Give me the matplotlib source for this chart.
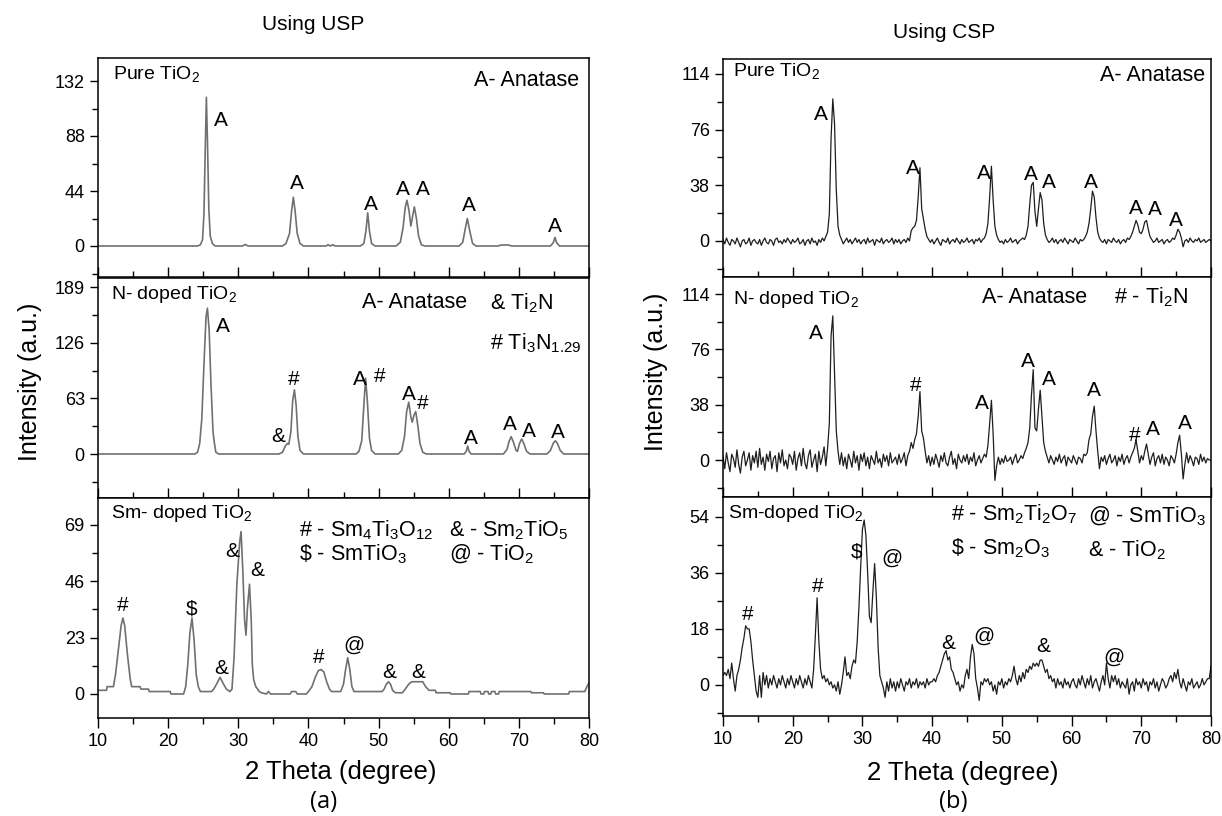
import numpy as np
import matplotlib
matplotlib.use("Agg")
import matplotlib.pyplot as plt
from matplotlib.ticker import MultipleLocator

plt.rcParams['font.family'] = ['Liberation Sans', 'DejaVu Sans']
plt.rcParams['mathtext.fontset'] = 'custom'
plt.rcParams['mathtext.rm'] = 'Liberation Sans'
plt.rcParams['mathtext.it'] = 'Liberation Sans:italic'
plt.rcParams['mathtext.default'] = 'regular'

# ---- data: USP (smooth patterns, read as x/y points) ----
usp_pure_x = [10, 24.2, 24.6, 24.9, 25.1, 25.3, 25.45, 25.6, 25.8, 26.0, 26.3, 26.7,
              30.6, 31.0, 31.4, 36.3, 36.8, 37.3, 37.6, 37.85, 38.1, 38.4, 38.8, 39.3,
              42.5, 42.8, 43.1, 43.5, 43.8, 47.4, 47.9, 48.2, 48.45, 48.7, 49.0, 49.5,
              52.5, 53.1, 53.5, 53.8, 54.05, 54.35, 54.6, 54.8, 55.1, 55.4, 55.7, 56.1, 56.6,
              61.5, 62.0, 62.3, 62.65, 63.0, 63.4, 63.9, 67.0, 67.5, 68.5, 69.0,
              74.5, 74.9, 75.15, 75.4, 75.8, 80]
usp_pure_y = [0, 0, 1, 5, 25, 80, 119, 85, 30, 8, 2, 0,
              0, 1.2, 0, 0, 2, 10, 28, 39, 28, 10, 2, 0,
              0, 1, 0, 1, 0, 0, 2, 12, 26.5, 12, 2, 0,
              0, 3, 15, 31, 36.6, 28, 16, 22, 31.3, 22, 8, 1, 0,
              0, 3, 12, 22, 12, 2, 0, 0, 0.8, 0.8, 0,
              0, 2.5, 6.9, 2.5, 0, 0]

usp_n_x = [10, 23.8, 24.2, 24.5, 24.8, 25.1, 25.4, 25.6, 25.85, 26.1, 26.4, 26.6, 26.8, 27.2,
           35.8, 36.3, 36.7, 37.0, 37.2, 37.5, 37.75, 38.0, 38.25, 38.5, 38.8, 39.3,
           46.8, 47.2, 47.6, 47.9, 48.15, 48.4, 48.7, 49.0, 49.5,
           52.8, 53.3, 53.7, 54.0, 54.3, 54.6, 54.8, 55.05, 55.3, 55.6, 55.9, 56.3, 56.8,
           62.2, 62.5, 62.7, 62.9, 63.2,
           67.8, 68.3, 68.6, 68.9, 69.2, 69.6, 69.8, 70.1, 70.4, 70.7, 71.1, 71.6,
           74.0, 74.5, 74.9, 75.2, 75.5, 75.9, 76.4, 80]
usp_n_y = [0, 0, 2, 12, 40, 100, 155, 165, 140, 80, 25, 12, 2, 0,
           0, 2, 9, 12, 11, 25, 60, 72.6, 55, 20, 4, 0,
           0, 3, 15, 55, 85.8, 60, 18, 4, 0,
           0, 4, 20, 48, 58.6, 42, 36, 44, 48, 32, 12, 2, 0,
           0, 3, 9, 3, 0,
           0, 5, 14, 19.6, 14, 4, 3, 12, 17, 12, 3, 0,
           0, 4, 12, 15, 12, 4, 0, 0]

usp_sm_x = [10, 11.2, 11.3, 12.2, 12.5, 12.9, 13.3, 13.55, 13.8, 14.2, 14.6, 14.8, 16.0, 16.1,
            17.2, 17.3, 20.3, 20.4, 22.2, 22.5, 22.8, 23.1, 23.4, 23.7, 24.0, 24.3, 24.6,
            25.5, 26.2, 26.5, 26.9, 27.4, 27.9, 28.3, 28.8, 29.1, 29.4, 29.8, 30.2, 30.4,
            30.65, 30.9, 31.1, 31.3, 31.6, 31.85, 32.0, 32.2, 32.5, 33.0, 33.3, 34.0, 34.3,
            34.6, 37.4, 37.6, 38.2, 38.4, 39.7, 40.0, 40.5, 41.0, 41.4, 41.8, 42.2, 42.6,
            43.0, 43.3, 44.6, 45.0, 45.3, 45.6, 45.9, 46.2, 46.5, 50.5, 50.8, 51.1, 51.4,
            51.7, 52.0, 52.4, 53.4, 53.8, 54.3, 54.7, 56.3, 56.7, 57.2, 58.1, 58.2, 60.2,
            60.3, 62.8, 62.9, 64.5, 64.6, 65.0, 65.1, 65.6, 65.7, 66.0, 66.1, 66.6, 66.7,
            67.1, 67.2, 71.7, 71.8, 73.5, 73.6, 77.1, 77.2, 79.4, 79.7, 80]
usp_sm_y = [1.5, 1.5, 3, 3, 8, 18, 28, 31, 28, 16, 6, 3, 3, 2,
            2, 1, 1, 0, 0, 3, 12, 25, 31, 22, 8, 3, 1,
            1, 1, 2, 4, 6.8, 4, 2, 1, 2, 15, 45, 62, 66.3,
            50, 30, 24, 35, 44.8, 30, 12, 5.7, 3, 1, 0.5, 0, 1,
            0, 0, 1, 1, 0, 0, 1, 3, 7, 9.5, 10, 9, 5,
            2, 1, 1, 4, 10, 14.8, 10, 3, 1, 1, 2, 4, 5,
            4, 1.5, 0.5, 0.5, 2, 4, 5, 5, 3, 1.5, 1.5, 0.5, 0.5,
            0, 0, 1, 1, 0, 0, 1, 1, 0, 0, 1, 1, 0,
            0, 1, 1, 0.5, 0.5, 0, 0, 1, 1, 3, 4.5]

# ---- data: CSP (noisy patterns, 0.25 deg steps from 10 to 80) ----
csp_pure_y = [
    1, -2, 2, -1, -3, 1, 0, -2, 2, -1, -4, 0, 1, -2, -1, 2, -3, 0, 1, -1,
    -2, 1, -3, 0, 2, -1, -2, 1, 0, -3, 1, 2, -1, 0, -2, 1, -1, 2, 0, -2,
    1, -1, 0, 2, -2, -1, 1, -3, 0, 1, -2, 2, -1, 0, -3, 1, -1, 2, 0, 3,
    6, 18, 70, 97, 80, 35, 10, 4, 1, -2, 0, 2, -1, 1, -2, 0, 2, -1, 1, -2,
    0, 1, -2, 2, -1, 0, 1, -3, 1, 0, -1, 2, -2, 0, 1, -1, 0, 2, -2, 1,
    -1, 1, -2, 0, 1, -1, 2, 0, 7, 9, 10, 14, 30, 50, 22, 15, 8, 3, 1, -1,
    1, -2, 0, 2, -1, -3, 1, 0, -1, 2, -2, 0, 1, -1, 2, 0, -2, 1, -1, 0,
    2, -1, 0, 1, -2, 1, 0, 2, -1, 1, 2, 5, 12, 30, 51, 28, 10, 4, 1, -1,
    0, -2, 1, -1, 0, 2, -1, 0, 1, -2, 0, 1, 2, 1, 4, 10, 25, 38, 40, 20,
    10, 22, 33, 28, 12, 4, 1, -1, 0, 2, -1, 1, -2, 0, 1, -1, 2, 0, -2, 1,
    0, -1, 2, 0, -2, 1, 0, 1, 3, 6, 12, 22, 34, 30, 16, 6, 2, 0, -1, 1,
    -2, 1, 0, -1, 2, 0, -1, 1, -2, 0, 1, -1, 2, 1, 3, 6, 10, 14, 11, 6,
    5, 8, 13, 14, 8, 3, 1, -1, 0, 2, -1, 0, 1, -2, 0, 1, -1, 0, 2, 1,
    4, 8, 6, 2, -4, 0, 1, -1, 2, 0, -1, 1, 0, 2, -1, 0, 1, -1, 0, 1,
    0]

csp_n_y = [
    3, -6, 5, -2, -8, 4, 1, -5, 7, -3, -9, 2, 6, -4, 0, 5, -7, 3, -2, 6,
    -5, 8, -3, 2, -7, 4, -1, 6, -6, 1, 3, -8, 5, -2, 7, -4, 0, -6, 4, 2,
    -3, 6, -7, 1, 5, -4, 8, -2, -6, 3, 7, -5, 0, 4, -8, 6, -3, 2, 9, -4,
    8, 25, 85, 99, 60, 20, 6, -3, 5, -4, 2, -6, 4, 0, -5, 6, -2, 3, -7, 4,
    -1, 5, -4, 2, -6, 3, 0, -3, 6, -2, 1, -5, 4, -1, 3, -4, 5, -2, 0, 2,
    -3, 4, -2, 1, 5, -4, 3, 6, 12, 8, 14, 18, 30, 47, 20, 15, 6, -2, 3, -4,
    2, -3, 4, 0, -5, 3, -1, 5, -2, -4, 2, 6, -3, 1, -6, 4, 0, -2, 3, -1,
    4, -3, 2, -1, 5, -4, 0, 3, -2, 1, 4, 2, 10, 25, 41, 18, -14, -4, 2, -3,
    1, -2, 3, -1, 0, 2, -3, 1, 4, -2, 0, 3, 1, 5, 8, 12, 22, 45, 62, 22,
    20, 35, 48, 30, 12, 6, 2, -2, 3, 0, -3, 2, -1, 4, -2, 1, 3, -4, 2, 0,
    -2, 3, 0, -3, 2, 1, -2, 4, 3, 5, 14, 18, 30, 37, 20, 6, -6, 2, -1, 3,
    -3, 1, 4, -2, 0, 3, -4, 2, -1, 4, -3, 1, 3, -2, 2, 5, 8, 14, 6, -2,
    3, 0, 6, 11, 4, -3, 2, 5, -4, 1, 3, -2, 4, -3, 2, 0, -4, 3, 1, -2,
    4, 12, 17, 4, -13, -3, 5, -2, 3, 0, -4, 2, 1, -3, 4, -1, 2, -2, 1, 0,
    0]

csp_sm_y = [
    3, 4, 3, 5, 2, 7, 2, -2, 3, 5, 8, 12, 15, 19, 18, 18, 14, 8, 3, -2,
    -4, 3, -4, 4, 0, 3, -1, 2, 0, 3, 1, -1, 2, 0, 3, 1, -1, 2, 0, 3,
    1, -1, 2, 0, 3, 1, -1, 2, 0, 3, 1, -1, 5, 16, 28, 14, 5, 2, 3, 1,
    2, 0, 1, -1, 0, -2, 1, -3, 0, 4, 9, 3, 4, 2, 6, 8, 7, 14, 25, 38,
    50, 53, 48, 36, 22, 20, 30, 39, 28, 12, 3, 1, -1, -4, 1, -2, 2, -1, 1, -2,
    1, -1, 2, 0, -2, 1, 0, 2, -1, 1, 0, 2, -1, 1, 0, 1, -1, 2, 0, 1,
    1, 2, 1, 3, 4, 6, 8, 10, 11, 8, 9, 5, 4, 2, 0, 1, -2, 0, -1, 3,
    5, 2, 9, 13, 10, 2, -1, -5, 1, 0, 2, 1, 2, 0, 1, -2, 0, -3, 1, 0,
    2, -1, 1, 0, 2, 1, 3, 6, 2, 0, 3, 1, 4, 2, 5, 4, 6, 5, 7, 6,
    7, 6, 8, 8, 6, 4, 5, 2, 3, 1, 2, -1, 2, 0, 1, -1, 2, 0, 1, -1,
    1, 2, 0, -1, 2, 0, 3, 1, -1, 2, 0, 3, -1, 1, 2, 0, -2, 1, 3, 0,
    7, 2, -1, 3, 1, 3, 0, 2, -1, 1, 0, -1, 2, -3, 0, 1, -2, 2, 0, 1,
    -1, 2, 0, 1, -2, 1, 0, 2, -1, 1, -2, 0, 2, 1, -1, 0, 2, 3, 1, 4,
    2, 5, 1, -1, 2, 0, -2, 1, 0, 2, -1, 0, 1, -1, 0, 2, 0, 1, 2, 2,
    6]

# y tick steps and limits per panel
usp_ticks = [44, 63, 23]
usp_ylims = [(-24.8, 150.4), (-49.8, 199.2), (-9.8, 80.0)]
csp_ticks = [38, 38, 18]
csp_ylims = [(-24.6, 124.2), (-25.4, 125.7), (-10.0, 60.4)]

W, H = 1222, 816
fig = plt.figure(figsize=(W / 100, H / 100), dpi=100)


def box(l, t, r, b):
    return [l / W, 1 - b / H, (r - l) / W, (b - t) / H]


left_boxes = [box(98, 58, 589, 277), box(98, 278, 589, 498), box(98, 498, 589, 718)]
right_boxes = [box(723, 59, 1211, 277), box(723, 277, 1211, 497), box(723, 497, 1211, 716)]


def style_axis(ax, step, ylim, bottom):
    ax.set_xlim(10, 80)
    ax.set_ylim(*ylim)
    ax.xaxis.set_major_locator(MultipleLocator(10))
    ax.xaxis.set_minor_locator(MultipleLocator(5))
    ax.yaxis.set_major_locator(MultipleLocator(step))
    ax.yaxis.set_minor_locator(MultipleLocator(step / 2))
    ax.set_yticks([0, step, 2 * step, 3 * step])
    ax.tick_params(axis='y', which='major', direction='out', length=6, width=1, labelsize=13)
    ax.tick_params(axis='y', which='minor', direction='out', length=4, width=1)
    ax.tick_params(axis='x', which='major', direction='out' if bottom else 'in',
                   length=7, width=1, labelsize=13, labelbottom=bottom)
    ax.tick_params(axis='x', which='minor', direction='out' if bottom else 'in',
                   length=4, width=1)
    for s in ax.spines.values():
        s.set_linewidth(1.1)


usp_series = [(usp_pure_x, usp_pure_y), (usp_n_x, usp_n_y), (usp_sm_x, usp_sm_y)]
axes_l = []
for i, (xs, ys) in enumerate(usp_series):
    ax = fig.add_axes(left_boxes[i])
    ax.plot(xs, ys, color='#707070', lw=1.2)
    style_axis(ax, usp_ticks[i], usp_ylims[i], i == 2)
    axes_l.append(ax)

axes_r = []
for i, ys in enumerate([csp_pure_y, csp_n_y, csp_sm_y]):
    ax = fig.add_axes(right_boxes[i])
    xs = np.linspace(10, 80, len(ys))
    ax.plot(xs, ys, color='#1e1e1e', lw=0.9)
    style_axis(ax, csp_ticks[i], csp_ylims[i], i == 2)
    axes_r.append(ax)

# sample names / phase keys
name_fs = 14
key_fs = 15.5
pk_fs = 15

a = axes_l[0]
a.text(12.2, 138, 'Pure TiO$_2$', fontsize=name_fs, va='center')
a.text(78.6, 132, 'A- Anatase', fontsize=key_fs, va='center', ha='right')
a = axes_l[1]
a.text(11.8, 180, 'N- doped TiO$_2$', fontsize=name_fs, va='center')
a.text(47.6, 171, 'A- Anatase', fontsize=key_fs, va='center')
a.text(65.9, 171, '& Ti$_2$N', fontsize=key_fs, va='center')
a.text(65.9, 125, '# Ti$_3$N$_{1.29}$', fontsize=key_fs, va='center')
a = axes_l[2]
a.text(11.8, 73.8, 'Sm- doped TiO$_2$', fontsize=name_fs, va='center')
a.text(38.7, 67, '# - Sm$_4$Ti$_3$O$_{12}$', fontsize=key_fs, va='center')
a.text(60.0, 67, '& - Sm$_2$TiO$_5$', fontsize=key_fs, va='center')
a.text(38.7, 57, '\\$ - SmTiO$_3$', fontsize=key_fs, va='center')
a.text(60.0, 57, '@ - TiO$_2$', fontsize=key_fs, va='center')

a = axes_r[0]
a.text(11.5, 116, 'Pure TiO$_2$', fontsize=name_fs, va='center')
a.text(79.1, 112.6, 'A- Anatase', fontsize=key_fs, va='center', ha='right')
a = axes_r[1]
a.text(11.5, 110, 'N- doped TiO$_2$', fontsize=name_fs, va='center')
a.text(47.1, 111.7, 'A- Anatase', fontsize=key_fs, va='center')
a.text(66.1, 111.7, '# - Ti$_2$N', fontsize=key_fs, va='center')
a = axes_r[2]
a.text(10.7, 55, 'Sm-doped TiO$_2$', fontsize=name_fs, va='center')
a.text(42.7, 55, '# - Sm$_2$Ti$_2$O$_7$', fontsize=key_fs, va='center')
a.text(62.4, 54.2, '@ - SmTiO$_3$', fontsize=key_fs, va='center')
a.text(42.7, 43.8, '\\$ - Sm$_2$O$_3$', fontsize=key_fs, va='center')
a.text(62.4, 43.3, '& - TiO$_2$', fontsize=key_fs, va='center')

# peak markers: (label, x, y)
usp_marks = [
    [('A', 27.5, 100), ('A', 38.3, 50), ('A', 48.85, 33.4), ('A', 53.4, 45),
     ('A', 56.3, 45), ('A', 62.9, 32.6), ('A', 75.2, 15.4)],
    [('A', 27.8, 144), ('&', 35.7, 19.6), ('#', 37.9, 84), ('A', 47.4, 84),
     ('#', 50.2, 88), ('A', 54.3, 67), ('#', 56.3, 57), ('A', 63.2, 17.8),
     ('A', 68.7, 33), ('A', 71.4, 25), ('A', 75.5, 24)],
    [('#', 13.55, 36.3), ('\\$', 23.4, 34.6), ('&', 27.6, 10.5), ('&', 29.1, 58),
     ('&', 32.7, 50.6), ('#', 41.4, 15), ('@', 46.5, 19.7), ('&', 51.5, 8.7),
     ('&', 55.6, 8.7)],
]
csp_marks = [
    [('A', 24.0, 86), ('A', 37.2, 49.5), ('A', 47.4, 46), ('A', 54.2, 45.6),
     ('A', 56.7, 40), ('A', 62.8, 40), ('A', 69.2, 22), ('A', 71.9, 21.4),
     ('A', 74.9, 14)],
    [('A', 23.3, 87), ('#', 37.7, 51.5), ('A', 47.2, 39), ('A', 53.7, 67.5),
     ('A', 56.7, 55), ('A', 63.2, 48), ('#', 69.0, 17), ('A', 71.7, 21),
     ('A', 76.3, 25)],
    [('#', 13.5, 22.5), ('#', 23.6, 31.5), ('\\$', 29.1, 42.8), ('@', 34.2, 40.6),
     ('&', 42.3, 13.4), ('@', 47.4, 15.5), ('&', 55.9, 12.3), ('@', 66.1, 9)],
]
for axs, marks in [(axes_l, usp_marks), (axes_r, csp_marks)]:
    for ax, mk in zip(axs, marks):
        for lab, x, y in mk:
            ax.text(x, y, lab, fontsize=pk_fs, ha='center', va='center')

# titles and axis labels
fig.text(313 / W, 1 - 25 / H, 'Using USP', fontsize=15, ha='center', va='center')
fig.text(944 / W, 1 - 33 / H, 'Using CSP', fontsize=15, ha='center', va='center')
fig.text(30 / W, 1 - 382 / H, 'Intensity (a.u.)', fontsize=18, rotation=90,
         ha='center', va='center')
fig.text(656 / W, 1 - 372 / H, 'Intensity (a.u.)', fontsize=18, rotation=90,
         ha='center', va='center')
fig.text(341 / W, 1 - 772 / H, '2 Theta (degree)', fontsize=18.5, ha='center', va='center')
fig.text(963 / W, 1 - 773 / H, '2 Theta (degree)', fontsize=18.5, ha='center', va='center')
fig.text(324 / W, 1 - 802 / H, '(a)', fontsize=17, ha='center', va='center',
         family=['Open Sans', 'DejaVu Sans'])
fig.text(953 / W, 1 - 802 / H, '(b)', fontsize=17, ha='center', va='center',
         family=['Open Sans', 'DejaVu Sans'])

fig.savefig('out.png', dpi=100)
